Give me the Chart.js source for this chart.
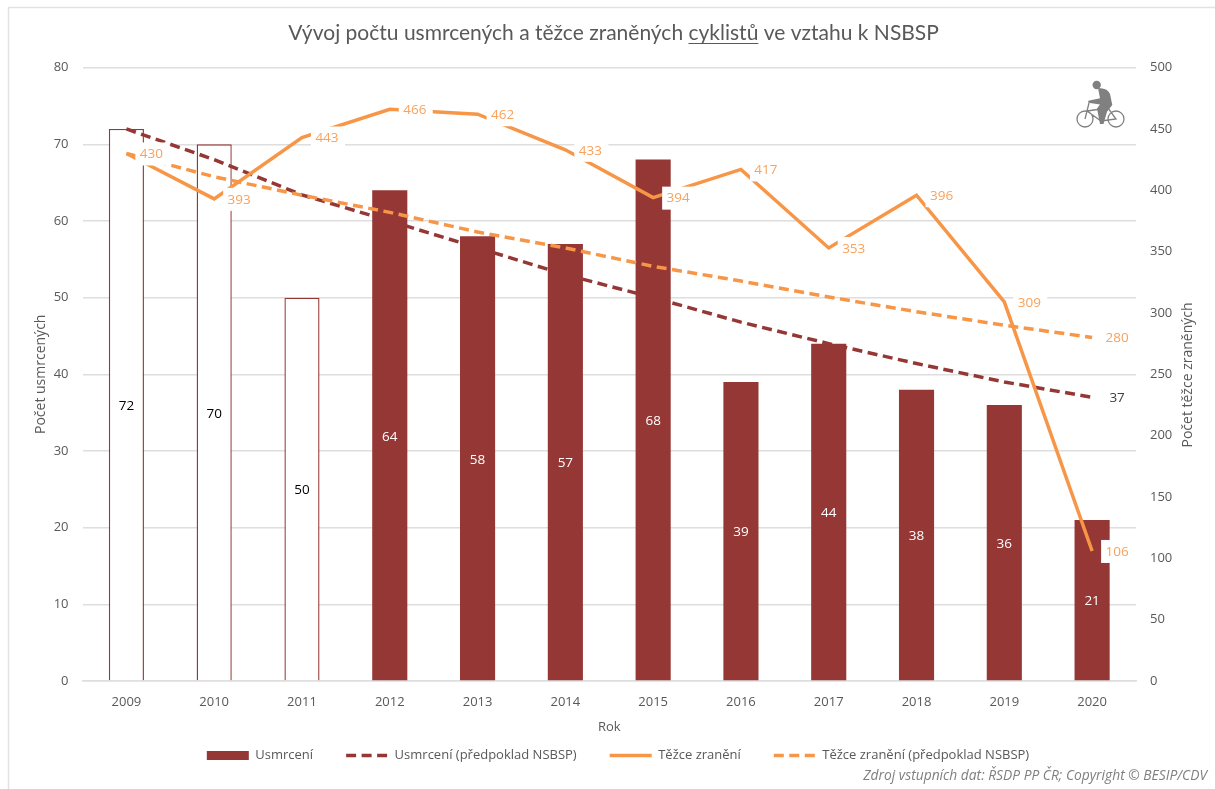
<!DOCTYPE html>
<html lang="cs">
<head>
<meta charset="utf-8">
<title>Cyklisté NSBSP</title>
<script src="https://cdn.jsdelivr.net/npm/chart.js@4"></script>
<style>
  html, body { margin: 0; padding: 0; background: #fff; }
  canvas { display: block; }
</style>
</head>
<body>
<canvas id="myChart" width="1215" height="789"></canvas>
<script>
const years = ["2009", "2010", "2011", "2012", "2013", "2014", "2015", "2016", "2017", "2018", "2019", "2020"];
const deaths = [72, 70, 50, 64, 58, 57, 68, 39, 44, 38, 36, 21];
const deathsPlan = [72, 68, 63.4, 60, 56.5, 53, 50, 46.8, 44, 41.4, 39, 37];
const injuries = [430, 393, 443, 466, 462, 433, 394, 417, 353, 396, 309, 106];
const injuriesPlan = [430, 411, 396, 382, 366, 353, 338, 326, 313, 301, 290, 280];
// 2009-2011 are outlined only
const hollowBars = ["2009", "2010", "2011"];

const titleText = "Vývoj počtu usmrcených a těžce zraněných cyklistů ve vztahu k NSBSP";
const underlined = "cyklistů";
const sourceText = "Zdroj vstupních dat: ŘSDP PP ČR; Copyright © BESIP/CDV";
const rightAxisTitle = "Počet těžce zraněných";

const red = "#953735";
const orange = "#F79646";
const labelOrange = "#F9A25C";
const grey = "#595959";
const gridGrey = "#DEDEDE";

const extras = {
  id: "extras",
  afterLayout(chart) {
    // excel keeps the legend and title a bit right of the middle
    chart.legend.left = 0;
    chart.legend.right = 1236;
    chart.legend.top = 716;
    chart.titleBlock.left = 12;
    chart.titleBlock.right = 1215;
  },
  beforeDraw(chart) {
    const ctx = chart.ctx;
    ctx.save();
    ctx.strokeStyle = "#E2E2E2";
    ctx.lineWidth = 1.5;
    ctx.beginPath();
    ctx.moveTo(8.5, 789);
    ctx.lineTo(8.5, 7.5);
    ctx.lineTo(1215, 7.5);
    ctx.stroke();
    ctx.restore();
  },
  afterDatasetsDraw(chart) {
    const ctx = chart.ctx;
    ctx.save();
    ctx.font = "13.5px 'Open Sans'";
    ctx.textBaseline = "middle";
    ctx.textAlign = "center";

    // bar values sit in the middle of the bars
    chart.getDatasetMeta(0).data.forEach((bar, i) => {
      ctx.fillStyle = hollowBars.includes(years[i]) ? "#000000" : "#FFFFFF";
      ctx.fillText(deaths[i], bar.x, (bar.y + bar.base) / 2 + 1.5);
    });

    function sideLabel(point, text, color) {
      ctx.fillStyle = "#FFFFFF";
      ctx.fillRect(point.x + 9, point.y - 11, 34, 23);
      ctx.fillStyle = color;
      ctx.fillText(text, point.x + 25, point.y + 1);
    }
    const last = years.length - 1;
    sideLabel(chart.getDatasetMeta(1).data[last], deathsPlan[last], "#404040");
    sideLabel(chart.getDatasetMeta(3).data[last], injuriesPlan[last], labelOrange);
    chart.getDatasetMeta(2).data.forEach((pt, i) => {
      sideLabel(pt, injuries[i], labelOrange);
    });
    ctx.restore();
  },
  afterDraw(chart) {
    const ctx = chart.ctx;
    ctx.save();

    // underline under one word of the title
    ctx.font = chart.options.plugins.title.font.size + "px Lato";
    const fullWidth = ctx.measureText(titleText).width;
    const start = 613.5 - fullWidth / 2 + ctx.measureText(titleText.split(underlined)[0]).width;
    ctx.strokeStyle = grey;
    ctx.lineWidth = 1;
    ctx.beginPath();
    ctx.moveTo(start, 43.5);
    ctx.lineTo(start + ctx.measureText(underlined).width, 43.5);
    ctx.stroke();

    // right axis title reads upwards, chart.js would turn it the other way
    ctx.fillStyle = grey;
    ctx.font = "14px 'Open Sans'";
    ctx.textAlign = "center";
    ctx.textBaseline = "middle";
    ctx.save();
    ctx.translate(1188, 375);
    ctx.rotate(-Math.PI / 2);
    ctx.fillText(rightAxisTitle, 0, 0);
    ctx.restore();

    ctx.font = "italic 13.8px 'Open Sans'";
    ctx.fillStyle = "#7F7F7F";
    ctx.textAlign = "right";
    ctx.fillText(sourceText, 1207, 776);

    drawCyclist(ctx);
    ctx.restore();
  }
};

function drawCyclist(ctx) {
  ctx.strokeStyle = "#808080";
  ctx.fillStyle = "#808080";
  ctx.lineWidth = 1.3;
  ctx.beginPath();
  ctx.arc(1085, 119, 8, 0, Math.PI * 2);
  ctx.moveTo(1124, 119);
  ctx.arc(1116, 119, 8, 0, Math.PI * 2);
  ctx.moveTo(1085, 119);
  ctx.lineTo(1089, 103);
  ctx.moveTo(1087, 111);
  ctx.lineTo(1101, 121);
  ctx.lineTo(1116, 119);
  ctx.lineTo(1108, 108);
  ctx.lineTo(1087, 111);
  ctx.stroke();
  ctx.beginPath();
  ctx.arc(1096.7, 85, 4.2, 0, Math.PI * 2);
  ctx.fill();
  ctx.beginPath();
  ctx.moveTo(1098, 88);
  ctx.quadraticCurveTo(1108, 88, 1110, 94);
  ctx.lineTo(1112.3, 105);
  ctx.lineTo(1107, 111.7);
  ctx.lineTo(1103.5, 124);
  ctx.lineTo(1100, 124);
  ctx.lineTo(1097, 108.5);
  ctx.lineTo(1100, 104.5);
  ctx.lineTo(1088.3, 102.7);
  ctx.lineTo(1088.3, 100.7);
  ctx.lineTo(1100, 98.3);
  ctx.closePath();
  ctx.fill();
}

new Chart("myChart", {
  type: "bar",
  plugins: [extras],
  data: {
    labels: years,
    datasets: [
      {
        label: "Usmrcení",
        data: deaths,
        yAxisID: "y",
        order: 4,
        backgroundColor: years.map(y => hollowBars.includes(y) ? "#FFFFFF" : red),
        borderColor: red,
        borderWidth: years.map(y => hollowBars.includes(y) ? 1.4 : 0),
        barPercentage: 0.4,
        categoryPercentage: 1
      },
      {
        type: "line",
        label: "Usmrcení (předpoklad NSBSP)",
        data: deathsPlan,
        yAxisID: "y",
        order: 3,
        borderColor: red,
        borderWidth: 3.5,
        borderDash: [10, 5.5],
        pointRadius: 0
      },
      {
        type: "line",
        label: "Těžce zranění",
        data: injuries,
        yAxisID: "y1",
        order: 1,
        borderColor: orange,
        borderWidth: 3.5,
        pointRadius: 0
      },
      {
        type: "line",
        label: "Těžce zranění (předpoklad NSBSP)",
        data: injuriesPlan,
        yAxisID: "y1",
        order: 2,
        borderColor: orange,
        borderWidth: 3.5,
        borderDash: [10, 5.5],
        pointRadius: 0
      }
    ]
  },
  options: {
    responsive: false,
    animation: false,
    layout: { padding: { left: 33, right: 0, top: 0, bottom: -3 } },
    plugins: {
      tooltip: { enabled: false },
      title: {
        display: true,
        text: titleText,
        color: grey,
        font: { family: "Lato", size: 21, weight: "normal", lineHeight: 1.2 },
        padding: { top: 20.4, bottom: 22 }
      },
      legend: {
        position: "bottom",
        labels: {
          usePointStyle: true,
          pointStyleWidth: 42,
          boxHeight: 9,
          padding: 33,
          color: grey,
          font: { family: "Open Sans", size: 13 },
          generateLabels(chart) {
            return chart.data.datasets.map((ds, i) => ({
              text: ds.label,
              datasetIndex: i,
              fontColor: grey,
              fillStyle: i === 0 ? red : ds.borderColor,
              strokeStyle: i === 0 ? red : ds.borderColor,
              lineWidth: i === 0 ? 0 : 3.5,
              lineDash: ds.borderDash || [],
              pointStyle: i === 0 ? "rect" : "line"
            }));
          }
        }
      }
    },
    scales: {
      x: {
        afterFit(scale) { scale.height = 55; },
        grid: { display: false, drawTicks: false },
        border: { color: gridGrey, width: 1.5 },
        ticks: { color: grey, font: { family: "Open Sans", size: 13 }, padding: 13, maxRotation: 0 },
        title: { display: true, text: "Rok", color: grey, font: { family: "Open Sans", size: 13 }, padding: { top: 8, bottom: 1 } }
      },
      y: {
        position: "left",
        min: 0,
        max: 80,
        afterFit(scale) { scale.width = 49.5; },
        grid: { color: gridGrey, lineWidth: 1.5, drawTicks: false },
        border: { display: false },
        ticks: { stepSize: 10, color: grey, font: { family: "Open Sans", size: 13 }, padding: 14 },
        title: { display: true, text: "Počet usmrcených", color: grey, font: { family: "Open Sans", size: 14 }, padding: 0 }
      },
      y1: {
        position: "right",
        min: 0,
        max: 500,
        afterFit(scale) { scale.width = 79; },
        grid: { display: false, drawTicks: false },
        border: { display: false },
        ticks: { stepSize: 50, color: grey, font: { family: "Open Sans", size: 13 }, padding: 14 }
      }
    }
  }
});
</script>
</body>
</html>
